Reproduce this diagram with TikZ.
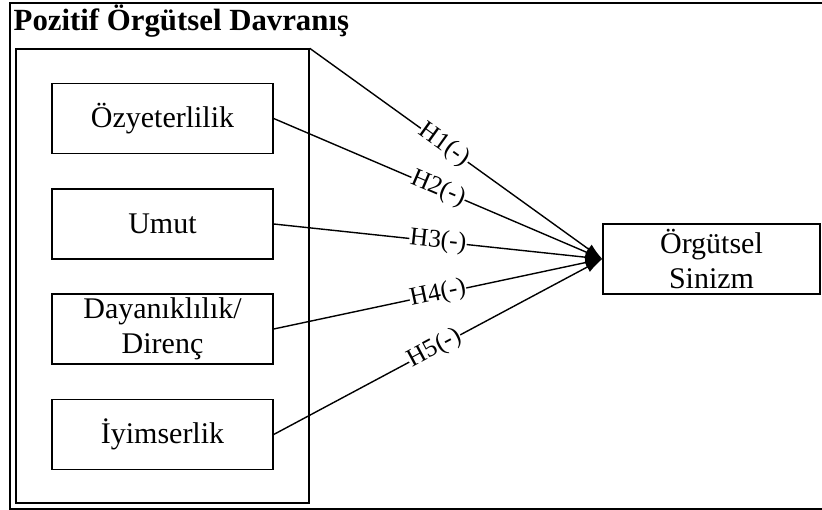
\documentclass[tikz,border=0pt]{standalone}
\usepackage{fontspec}
\setmainfont{Liberation Serif}
\usetikzlibrary{arrows.meta}

\begin{document}
\begin{tikzpicture}[x=1pt, y=-1pt, line width=1.4pt,
    every node/.style={font=\fontsize{30}{35}\selectfont},
    dimbox/.style={draw, minimum width=221pt, minimum height=70pt, align=center, inner sep=0pt},
    hyp/.style={font=\fontsize{25.5}{25}\selectfont, fill=white, inner sep=0.5pt, sloped},
    toarrow/.style={-{Latex[length=17pt,width=11pt]}}]
        \useasboundingbox (0,0) rectangle (822,510);
        \draw[line width=2pt] (822,3) -- (10,3) -- (10,509) -- (822,509);
        \node[anchor=base west, font=\fontsize{30.8}{30}\selectfont\bfseries, inner sep=0pt] (title) at (13,31) {Pozitif Örgütsel Davranış};
        \node[draw, minimum width=293pt, minimum height=454pt, inner sep=0pt] (pod) at (162.5,276) {};
        \node[dimbox] (b1) at (162.5,118.5) {Özyeterlilik};
        \node[dimbox] (b2) at (162.5,224) {Umut};
        \node[dimbox] (b3) at (162.5,329) {Dayanıklılık/\\Direnç};
        \node[dimbox] (b4) at (162.5,434.5) {İyimserlik};
        \node[draw, minimum width=217pt, minimum height=70pt, align=center, inner sep=0pt] (sin) at (711.5,259) {Örgütsel\\Sinizm};
        \draw[toarrow] (pod.north east) -- node[hyp, pos=0.46] {H1(-)} (sin.west);
        \draw[toarrow] (b1.east) -- node[hyp] {H2(-)} (sin.west);
        \draw[toarrow] (b2.east) -- node[hyp] {H3(-)} (sin.west);
        \draw[toarrow] (b3.east) -- node[hyp] {H4(-)} (sin.west);
        \draw[toarrow] (b4.east) -- node[hyp, pos=0.49] {H5(-)} (sin.west);
\end{tikzpicture}
\end{document}
